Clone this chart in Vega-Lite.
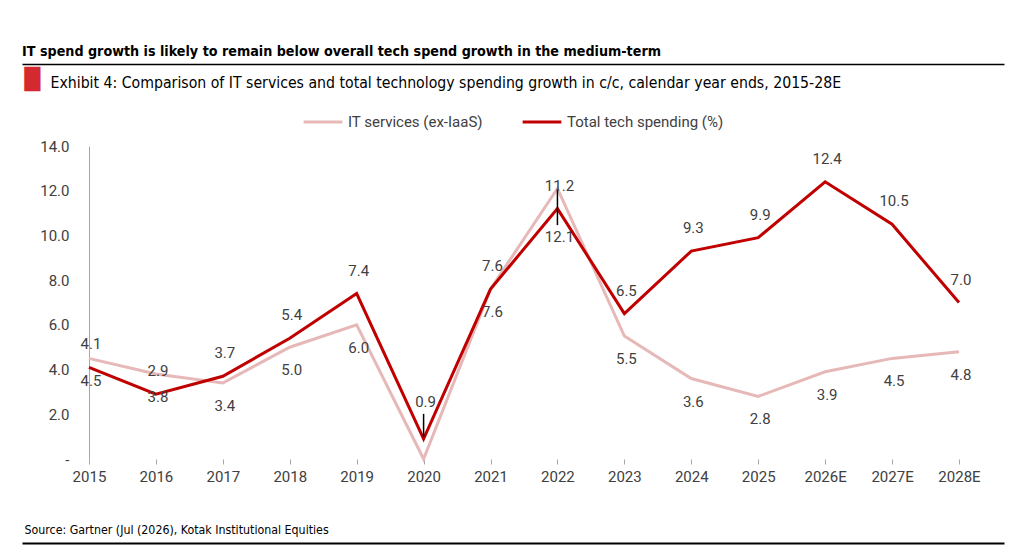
{
  "$schema": "https://vega.github.io/schema/vega-lite/v6.json",
  "width": 982,
  "height": 313,
  "autosize": {"type": "none"},
  "padding": {"left": 22, "top": 146, "right": 7, "bottom": 94},
  "background": "white",
  "config": {"view": {"stroke": null}, "font": "Roboto"},
  "title": {
    "text": "IT spend growth is likely to remain below overall tech spend growth in the medium-term",
    "anchor": "start",
    "frame": "group",
    "font": "DejaVu Sans Condensed",
    "fontSize": 14.2,
    "fontWeight": "bold",
    "color": "black",
    "offset": -6,
    "baseline": "alphabetic"
  },
  "data": {
    "values": [
      {"year": "2015", "series": "IT services (ex-IaaS)", "value": 4.5},
      {"year": "2016", "series": "IT services (ex-IaaS)", "value": 3.8},
      {"year": "2017", "series": "IT services (ex-IaaS)", "value": 3.4},
      {"year": "2018", "series": "IT services (ex-IaaS)", "value": 5.0},
      {"year": "2019", "series": "IT services (ex-IaaS)", "value": 6.0},
      {"year": "2020", "series": "IT services (ex-IaaS)", "value": 0.0},
      {"year": "2021", "series": "IT services (ex-IaaS)", "value": 7.6},
      {"year": "2022", "series": "IT services (ex-IaaS)", "value": 12.1},
      {"year": "2023", "series": "IT services (ex-IaaS)", "value": 5.5},
      {"year": "2024", "series": "IT services (ex-IaaS)", "value": 3.6},
      {"year": "2025", "series": "IT services (ex-IaaS)", "value": 2.8},
      {"year": "2026E", "series": "IT services (ex-IaaS)", "value": 3.9},
      {"year": "2027E", "series": "IT services (ex-IaaS)", "value": 4.5},
      {"year": "2028E", "series": "IT services (ex-IaaS)", "value": 4.8},
      {"year": "2015", "series": "Total tech spending (%)", "value": 4.1},
      {"year": "2016", "series": "Total tech spending (%)", "value": 2.9},
      {"year": "2017", "series": "Total tech spending (%)", "value": 3.7},
      {"year": "2018", "series": "Total tech spending (%)", "value": 5.4},
      {"year": "2019", "series": "Total tech spending (%)", "value": 7.4},
      {"year": "2020", "series": "Total tech spending (%)", "value": 0.9},
      {"year": "2021", "series": "Total tech spending (%)", "value": 7.6},
      {"year": "2022", "series": "Total tech spending (%)", "value": 11.2},
      {"year": "2023", "series": "Total tech spending (%)", "value": 6.5},
      {"year": "2024", "series": "Total tech spending (%)", "value": 9.3},
      {"year": "2025", "series": "Total tech spending (%)", "value": 9.9},
      {"year": "2026E", "series": "Total tech spending (%)", "value": 12.4},
      {"year": "2027E", "series": "Total tech spending (%)", "value": 10.5},
      {"year": "2028E", "series": "Total tech spending (%)", "value": 7.0}
    ]
  },
  "resolve": {"axis": {"x": "independent"}},
  "layer": [
    {
      "encoding": {
        "x": {
          "field": "year",
          "type": "ordinal",
          "scale": {"type": "point", "padding": 0.8368, "align": 0.598},
          "axis": {
            "orient": "bottom",
            "domain": false,
            "ticks": true,
            "tickColor": "#A6A6A6",
            "tickSize": 5,
            "labelFont": "Roboto",
            "labelFontSize": 15,
            "labelColor": "#404040",
            "labelPadding": 5,
            "labelAngle": 0,
            "grid": false,
            "title": null
          }
        },
        "y": {
          "field": "value",
          "type": "quantitative",
          "scale": {"domain": [0, 14], "nice": false},
          "axis": {
            "orient": "left",
            "offset": -67,
            "values": [0, 2, 4, 6, 8, 10, 12, 14],
            "labelExpr": "datum.value === 0 ? '-' : format(datum.value, '.1f')",
            "grid": false,
            "ticks": false,
            "tickSize": 0,
            "domain": true,
            "domainColor": "#A6A6A6",
            "labelFont": "Roboto",
            "labelFontSize": 15,
            "labelColor": "#404040",
            "labelPadding": 20,
            "title": "█",
            "titleColor": "#D42A2F",
            "titleFont": "DejaVu Sans",
            "titleFontSize": 20.5,
            "titleFontWeight": "normal",
            "titleAngle": 0,
            "titleAlign": "left",
            "titleBaseline": "top",
            "titleX": -65,
            "titleY": -77
          }
        }
      },
      "layer": [
        {
          "data": {"values": [{}]},
          "mark": {"type": "rule", "color": "#A6A6A6", "strokeWidth": 1},
          "encoding": {
            "x": {"datum": "2015"},
            "x2": {"datum": "2028E"},
            "y": {"datum": 0}
          }
        },
        {
          "mark": {"type": "line", "strokeWidth": 3},
          "encoding": {
            "color": {
              "field": "series",
              "type": "nominal",
              "scale": {
                "domain": ["IT services (ex-IaaS)", "Total tech spending (%)"],
                "range": ["#E6B8B7", "#C00000"]
              },
              "legend": {
                "orient": "none",
                "legendX": 280,
                "legendY": -45,
                "direction": "horizontal",
                "title": null,
                "symbolType": "stroke",
                "symbolStrokeWidth": 3,
                "symbolSize": 1500,
                "labelFont": "Roboto",
                "labelFontSize": 15,
                "labelColor": "#404040",
                "columnPadding": 33,
                "labelOffset": 4,
                "padding": 0
              }
            }
          }
        },
        {
          "transform": [{"filter": "datum.series === 'Total tech spending (%)' && datum.year === '2020'"}],
          "mark": {"type": "rule", "color": "black", "strokeWidth": 1.5, "yOffset": -2, "y2Offset": -25},
          "encoding": {"y2": {"field": "value"}}
        },
        {
          "transform": [{"filter": "datum.series === 'Total tech spending (%)' && datum.year === '2022'"}],
          "mark": {"type": "rule", "color": "black", "strokeWidth": 1.5, "yOffset": 16.5, "y2Offset": -19.5},
          "encoding": {"y2": {"field": "value"}}
        },
        {
          "transform": [{"filter": "datum.series === 'Total tech spending (%)' && datum.year !== '2020'"}],
          "mark": {"type": "text", "dy": -23, "dx": 2, "fontSize": 15, "color": "#404040", "font": "Roboto"},
          "encoding": {"text": {"field": "value", "type": "quantitative", "format": ".1f"}}
        },
        {
          "transform": [{"filter": "datum.series === 'Total tech spending (%)' && datum.year === '2020'"}],
          "mark": {"type": "text", "dy": -37, "dx": 2, "fontSize": 15, "color": "#404040", "font": "Roboto"},
          "encoding": {"text": {"field": "value", "type": "quantitative", "format": ".1f"}}
        },
        {
          "transform": [{"filter": "datum.series === 'IT services (ex-IaaS)' && datum.year !== '2020' && datum.year !== '2022'"}],
          "mark": {"type": "text", "dy": 23, "dx": 2, "fontSize": 15, "color": "#404040", "font": "Roboto"},
          "encoding": {"text": {"field": "value", "type": "quantitative", "format": ".1f"}}
        },
        {
          "transform": [{"filter": "datum.series === 'IT services (ex-IaaS)' && datum.year === '2022'"}],
          "mark": {"type": "text", "dy": 49, "dx": 2, "fontSize": 15, "color": "#404040", "font": "Roboto"},
          "encoding": {"text": {"field": "value", "type": "quantitative", "format": ".1f"}}
        }
      ]
    },
    {
      "mark": {"type": "point", "opacity": 0},
      "encoding": {
        "x": {
          "field": "year",
          "type": "ordinal",
          "axis": {
            "orient": "top",
            "offset": 82,
            "domain": true,
            "domainColor": "black",
            "domainWidth": 1.5,
            "ticks": false,
            "labels": false,
            "grid": false,
            "title": "Exhibit 4: Comparison of IT services and total technology spending growth in c/c, calendar year ends, 2015-28E",
            "titleFont": "DejaVu Sans Condensed",
            "titleFontSize": 15.7,
            "titleFontWeight": "normal",
            "titleColor": "black",
            "titleX": 28,
            "titleY": 23.5,
            "titleAlign": "left",
            "titleBaseline": "alphabetic",
            "titleAngle": 0
          }
        }
      }
    },
    {
      "mark": {"type": "point", "opacity": 0},
      "encoding": {
        "x": {
          "field": "year",
          "type": "ordinal",
          "axis": {
            "orient": "bottom",
            "offset": 84,
            "domain": true,
            "domainColor": "black",
            "domainWidth": 2,
            "ticks": false,
            "labels": false,
            "grid": false,
            "title": "Source: Gartner (Jul (2026), Kotak Institutional Equities",
            "titleFont": "DejaVu Sans Condensed",
            "titleFontSize": 12.3,
            "titleFontWeight": "normal",
            "titleColor": "black",
            "titleX": 2,
            "titleY": -10,
            "titleAlign": "left",
            "titleBaseline": "alphabetic",
            "titleAngle": 0
          }
        }
      }
    }
  ]
}
